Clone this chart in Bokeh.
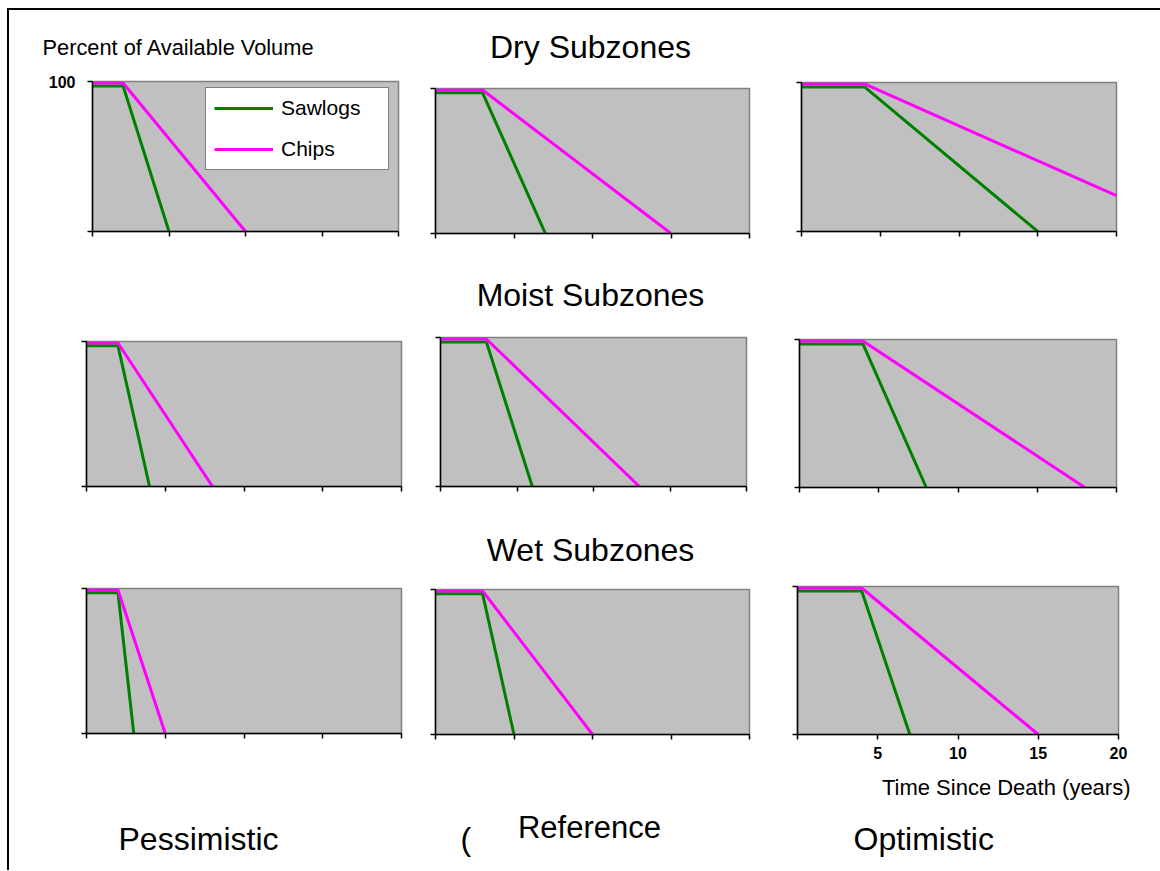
from bokeh.plotting import figure
from bokeh.layouts import column, row
from bokeh.models import Range1d, FixedTicker, Label
from bokeh.embed import file_html
from bokeh.resources import INLINE

FONT = "Liberation Sans"

# ---------------- data ----------------
subzones = ["Dry Subzones", "Moist Subzones", "Wet Subzones"]
scenarios = ["Pessimistic", "Reference", "Optimistic"]
series_names = ["Sawlogs", "Chips"]

x_ticks = [0, 5, 10, 15, 20]
x_tick_labels = ["", "5", "10", "15", "20"]
y_ticks = [0, 100]
y_tick_labels = ["", "100"]

# Dry subzones: [pessimistic, reference, optimistic]
dry_sawlogs_years = [[0, 2, 5], [0, 3, 7], [0, 4, 15]]
dry_sawlogs_pct = [[97, 97, 0], [97, 97, 0], [97, 97, 0]]
dry_chips_years = [[0, 2, 10], [0, 3, 15], [0, 4, 20]]
dry_chips_pct = [[99, 99, 0], [99, 99, 0], [99, 99, 24]]

# Moist subzones
moist_sawlogs_years = [[0, 2, 4], [0, 3, 6], [0, 4, 8]]
moist_sawlogs_pct = [[97, 97, 0], [97, 97, 0], [97, 97, 0]]
moist_chips_years = [[0, 2, 8], [0, 3, 13], [0, 4, 18]]
moist_chips_pct = [[99, 99, 0], [99, 99, 0], [99, 99, 0]]

# Wet subzones
wet_sawlogs_years = [[0, 2, 3], [0, 3, 5], [0, 4, 7]]
wet_sawlogs_pct = [[97, 97, 0], [97, 97, 0], [97, 97, 0]]
wet_chips_years = [[0, 2, 5], [0, 3, 10], [0, 4, 15]]
wet_chips_pct = [[99, 99, 0], [99, 99, 0], [99, 99, 0]]

# ---------------- layout (pixels) ----------------
TOTAL_W = 1151
col_w = [409, 357, 385]
row_h = [196, 194, 200]
strip_h = [56, 56, 58, 100]
# (left, right, top, bottom) borders around each panel's plot area
borders = [
    [(83, 20, 15, 31), (17, 26, 22, 29), (26, 44, 16, 31)],
    [(77, 17, 23, 26), (22, 29, 19, 26), (24, 44, 21, 25)],
    [(77, 17, 18, 37), (17, 26, 19, 36), (22, 42, 16, 36)],
]

GREEN = "#008000"
MAGENTA = "#FF00FF"

data_rows = [
    (dry_sawlogs_years, dry_sawlogs_pct, dry_chips_years, dry_chips_pct),
    (moist_sawlogs_years, moist_sawlogs_pct, moist_chips_years, moist_chips_pct),
    (wet_sawlogs_years, wet_sawlogs_pct, wet_chips_years, wet_chips_pct),
]


def make_panel(r, c):
    ml, mr, mt, mb = borders[r][c]
    p = figure(width=col_w[c], height=row_h[r],
               x_range=Range1d(0, 20), y_range=Range1d(0, 100),
               output_backend="svg", toolbar_location=None, title=None,
               min_border_left=ml, min_border_right=mr,
               min_border_top=mt, min_border_bottom=mb,
               background_fill_color="#C0C0C0", border_fill_color="white",
               outline_line_color="#808080", outline_line_width=1.5)
    p.grid.visible = False
    show_x = (r == 2 and c == 2)
    show_y = (r == 0 and c == 0)
    for ax, show in ((p.xaxis[0], show_x), (p.yaxis[0], show_y)):
        ax.axis_line_color = "black"
        ax.axis_line_width = 1.5
        ax.major_tick_line_color = "black"
        ax.major_tick_line_width = 1.5
        ax.major_tick_out = 5
        ax.major_tick_in = 0
        ax.minor_tick_line_color = None
        ax.major_label_text_font = FONT
        ax.major_label_text_font_style = "bold"
        ax.major_label_text_color = "black"
        ax.major_label_text_font_size = "16px" if show else "1px"
        if not show:
            ax.major_label_standoff = 0
    p.xaxis.ticker = FixedTicker(ticks=x_ticks)
    p.yaxis.ticker = FixedTicker(ticks=y_ticks)
    p.xaxis.major_label_overrides = {t: (l if show_x else "") for t, l in zip(x_ticks, x_tick_labels)}
    p.yaxis.major_label_overrides = {t: (l if show_y else "") for t, l in zip(y_ticks, y_tick_labels)}
    if show_x:
        p.xaxis.major_label_standoff = 7
    if show_y:
        p.yaxis.major_label_standoff = 12

    sx, sy, cx, cy = data_rows[r]
    if r == 0 and c == 0:
        p.line(sx[c], sy[c], line_color=GREEN, line_width=3, legend_label=series_names[0])
        p.line(cx[c], cy[c], line_color=MAGENTA, line_width=3, legend_label=series_names[1])
        lg = p.legend[0]
        lg.location = (113, 61)
        lg.margin = 0
        lg.padding = 8
        lg.spacing = 17
        lg.glyph_width = 59
        lg.glyph_height = 24
        lg.label_height = 24
        lg.label_width = 99
        lg.label_standoff = 8
        lg.label_text_font = FONT
        lg.label_text_font_size = "21px"
        lg.label_text_color = "black"
        lg.border_line_color = "black"
        lg.border_line_width = 1
        lg.background_fill_color = "white"
        lg.background_fill_alpha = 1
    else:
        p.line(sx[c], sy[c], line_color=GREEN, line_width=3)
        p.line(cx[c], cy[c], line_color=MAGENTA, line_width=3)
    return column(p)


def make_strip(h):
    s = figure(width=TOTAL_W, height=h, x_range=Range1d(0, TOTAL_W), y_range=Range1d(0, h),
               output_backend="svg", toolbar_location=None, title=None,
               x_axis_type=None, y_axis_type=None,
               min_border_left=0, min_border_right=0, min_border_top=0, min_border_bottom=0,
               background_fill_color="white", border_fill_color="white",
               outline_line_color=None)
    s.grid.visible = False
    return s


def add_text(p, x, y, text, size, align="left"):
    p.add_layout(Label(x=x, y=y, x_units="screen", y_units="screen", text=text,
                       text_font=FONT, text_font_size=size, text_align=align,
                       text_baseline="middle", text_color="black"))


strips = [make_strip(h) for h in strip_h]
add_text(strips[0], 33, 19, "Percent of Available Volume", "21.8px")
add_text(strips[0], 581, 20, subzones[0], "32px", "center")
add_text(strips[1], 581, 24, subzones[1], "32px", "center")
add_text(strips[2], 581, 21, subzones[2], "32px", "center")
add_text(strips[3], 1121, 83, "Time Since Death (years)", "22px", "right")
add_text(strips[3], 109, 32, scenarios[0], "32px")
add_text(strips[3], 451, 32, "(", "32px")
add_text(strips[3], 580, 43, scenarios[1], "31px", "center")
add_text(strips[3], 844, 32, scenarios[2], "32px")

panel_rows = [row(*[make_panel(r, c) for c in range(3)], spacing=0) for r in range(3)]

layout = column(strips[0], panel_rows[0], strips[1], panel_rows[1],
                strips[2], panel_rows[2], strips[3], spacing=0,
                styles={"margin-left": "7px", "margin-top": "8px",
                        "border-left": "2px solid black", "border-top": "2px solid black"})

open("out.html", "w").write(file_html(layout, INLINE))
